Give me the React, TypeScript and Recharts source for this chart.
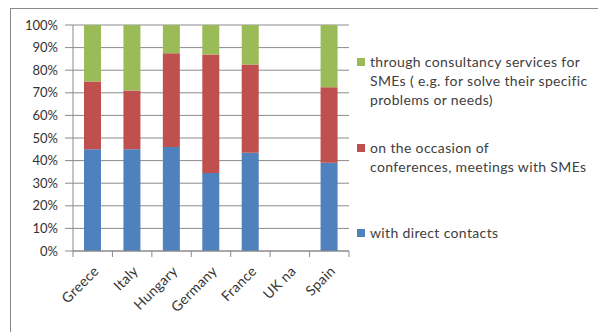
import { Bar, BarChart, CartesianGrid, XAxis, YAxis } from "recharts"

const countries = ["Greece", "Italy", "Hungary", "Germany", "France", "UK na", "Spain"]
const directContacts = [45, 45, 46, 34.5, 43.5, 0, 39]
const conferences = [30, 26, 41.5, 52.5, 39, 0, 33.5]
const consultancy = [25, 29, 12.5, 13, 17.5, 0, 27.5]
const percentTicks = [0, 10, 20, 30, 40, 50, 60, 70, 80, 90, 100]

const legendItems = [
  {
    key: "consultancy",
    color: "#9BBB59",
    lines: ["through consultancy services for", "SMEs ( e.g. for solve their specific", "problems or needs)"],
  },
  { key: "conferences", color: "#C0504D", lines: ["on the occasion of", "conferences, meetings with SMEs"] },
  { key: "direct", color: "#4F81BD", lines: ["with direct contacts"] },
]

const FONT = "Lato, 'Liberation Sans', sans-serif"
const AXIS_GRAY = "#8a8a8a"
const CHART_W = 598
const CHART_H = 332
const MARGIN = { top: 25, right: 249, bottom: 0, left: 13 }
const X_AXIS_H = 81
const Y_AXIS_W = 60
const BAND = (CHART_W - MARGIN.left - MARGIN.right - Y_AXIS_W) / countries.length

const data = countries.map((country, i) => ({
  country,
  direct: directContacts[i],
  conferences: conferences[i],
  consultancy: consultancy[i],
}))

function CountryTick(props: any) {
  const { x, y, payload } = props
  const isLast = payload.index === countries.length - 1
  return (
    <g transform={`translate(${x},${y})`}>
      <line x1={-BAND / 2} x2={-BAND / 2} y1={0} y2={6} stroke={AXIS_GRAY} />
      {isLast && <line x1={BAND / 2} x2={BAND / 2} y1={0} y2={6} stroke={AXIS_GRAY} />}
      <text
        transform="translate(7,21) rotate(-45)"
        textAnchor="end"
        fontSize={14}
        letterSpacing={0.3}
        fontFamily={FONT}
        fill="#333"
      >
        {payload.value}
      </text>
    </g>
  )
}

// legend sits to the right of the plot, green entry on top
function SideLegend() {
  const gaps = [0, 29, 47]
  return (
    <div
      style={{
        position: "absolute",
        left: 355,
        top: 52,
        width: 240,
        fontFamily: FONT,
        fontSize: 14,
        letterSpacing: 0.35,
        color: "#404040",
      }}
    >
      {legendItems.map((item, i) => (
        <div key={item.key} style={{ position: "relative", marginTop: gaps[i], paddingLeft: 15 }}>
          <span
            style={{
              position: "absolute",
              left: 2,
              top: 6,
              width: 8,
              height: 8,
              background: item.color,
            }}
          />
          {item.lines.map((line) => (
            <div key={line} style={{ lineHeight: "19px", whiteSpace: "nowrap" }}>
              {line}
            </div>
          ))}
        </div>
      ))}
    </div>
  )
}

export default function App() {
  return (
    <div style={{ position: "absolute", left: 0, top: 0, width: CHART_W, height: CHART_H, background: "#fff" }}>
      <div
        style={{
          position: "absolute",
          left: 10,
          top: 8,
          right: 0,
          bottom: 0,
          borderLeft: `1px solid ${AXIS_GRAY}`,
          borderTop: `1px solid ${AXIS_GRAY}`,
        }}
      />
      <div style={{ position: "absolute", left: 0, top: 0 }}>
        <BarChart width={CHART_W} height={CHART_H} data={data} margin={MARGIN} barSize={17}>
          <CartesianGrid vertical={false} stroke={AXIS_GRAY} strokeWidth={1} />
          <XAxis
            dataKey="country"
            interval={0}
            tickLine={false}
            tickSize={0}
            tickMargin={0}
            stroke={AXIS_GRAY}
            tick={<CountryTick />}
            height={X_AXIS_H}
          />
          <YAxis
            width={Y_AXIS_W}
            domain={[0, 100]}
            ticks={percentTicks}
            interval={0}
            stroke={AXIS_GRAY}
            tickSize={8}
            tickMargin={7}
            tickFormatter={(v) => `${v}%`}
            tick={{ fontSize: 13, fontFamily: FONT, fill: "#333" }}
          />
          <Bar dataKey="direct" stackId="a" fill="#4F81BD" isAnimationActive={false} />
          <Bar dataKey="conferences" stackId="a" fill="#C0504D" isAnimationActive={false} />
          <Bar dataKey="consultancy" stackId="a" fill="#9BBB59" isAnimationActive={false} />
        </BarChart>
      </div>
      <SideLegend />
    </div>
  )
}
